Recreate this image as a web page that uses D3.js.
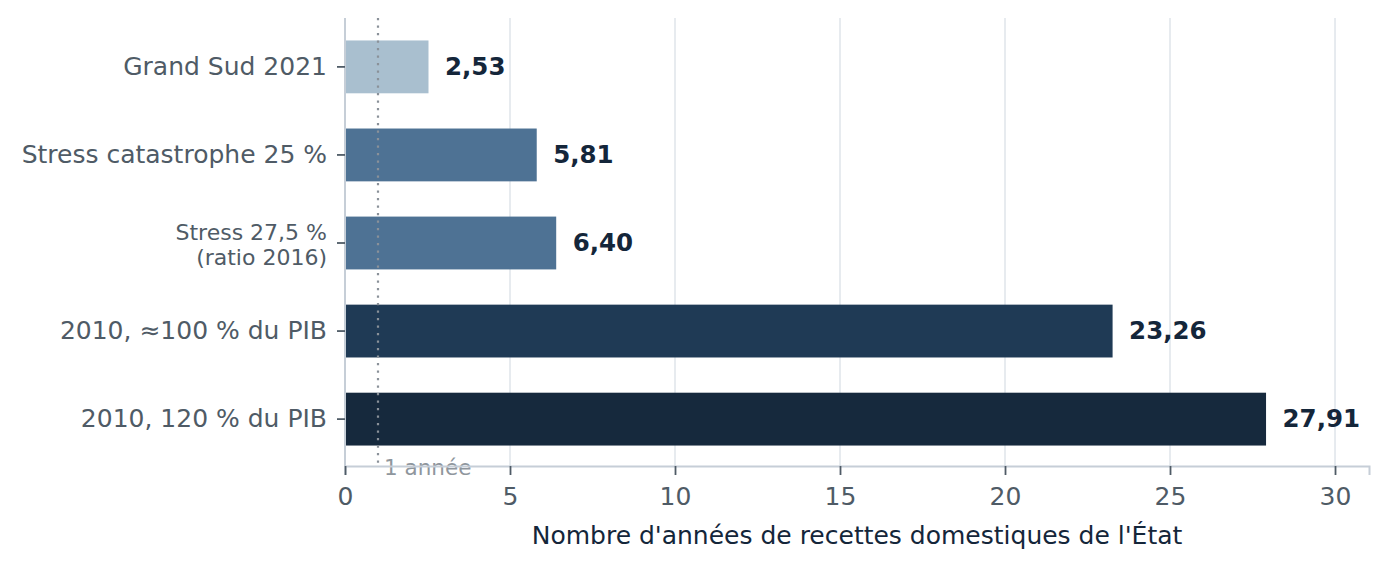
<!DOCTYPE html>
<html>
<head>
<meta charset="utf-8">
<script src="https://cdn.jsdelivr.net/npm/d3@7"></script>
<style>
  body { margin: 0; background: #ffffff; }
  svg { font-family: "DejaVu Sans", sans-serif; }
</style>
</head>
<body>
<div id="chart"></div>
<script>
// data
let categories = ["Grand Sud 2021", "Stress catastrophe 25 %", "Stress 27,5 %\n(ratio 2016)", "2010, ≈100 % du PIB", "2010, 120 % du PIB"];
let values = [2.53, 5.81, 6.40, 23.26, 27.91];
let barColors = ["#a9bfcf", "#4e7294", "#4e7294", "#1f3a55", "#16293d"];
let xTicks = [0, 5, 10, 15, 20, 25, 30];
let refValue = 1;
let refLabel = "1 année";
let xTitle = "Nombre d'années de recettes domestiques de l'État";

let fullWidth = 1388;
let fullHeight = 569;
let marginTop = 18;
let marginLeft = 345;
let marginRight = 19;
let marginBottom = 103;
let width = fullWidth - marginLeft - marginRight;
let height = fullHeight - marginTop - marginBottom;

let x = d3.scaleLinear().domain([0, 31.03]).range([0, width]);
// band range nudged down a pixel to sit like the original
let y = d3.scaleBand().domain(categories).range([1.5, height + 0.5])
    .paddingInner(0.4).paddingOuter(0.238);

let svg = d3.select("#chart").append("svg")
    .attr("width", fullWidth)
    .attr("height", fullHeight)
    .append("g")
    .attr("transform", "translate(" + marginLeft + "," + marginTop + ")");

// vertical grid lines
svg.append("g")
    .selectAll("line")
    .data(xTicks.filter(d => d > 0))
    .enter().append("line")
    .attr("x1", d => x(d)).attr("x2", d => x(d))
    .attr("y1", 0).attr("y2", height)
    .attr("stroke", "#e1e6eb")
    .attr("stroke-width", 1.6);

// bars
svg.append("g")
    .selectAll("rect")
    .data(values)
    .enter().append("rect")
    .attr("x", x(0))
    .attr("y", (d, i) => y(categories[i]))
    .attr("width", d => x(d) - x(0))
    .attr("height", y.bandwidth())
    .attr("fill", (d, i) => barColors[i]);

// value labels
svg.append("g")
    .selectAll("text")
    .data(values)
    .enter().append("text")
    .attr("x", d => x(d) + 16.5)
    .attr("y", (d, i) => y(categories[i]) + y.bandwidth() / 2)
    .attr("dy", "0.34em")
    .attr("fill", "#14263a")
    .style("font-size", "24.5px")
    .style("font-weight", "bold")
    .text(d => d3.format(".2f")(d).replace(".", ","));

// reference line at 1 year
svg.append("line")
    .attr("x1", x(refValue)).attr("x2", x(refValue))
    .attr("y1", 0).attr("y2", height)
    .attr("stroke", "#8a9199")
    .attr("stroke-width", 2.2)
    .attr("stroke-dasharray", "2.2,5.3");

svg.append("text")
    .attr("x", x(refValue) + 6)
    .attr("y", height + 9)
    .attr("fill", "#8f969d")
    .style("font-size", "21.5px")
    .text(refLabel);

// x axis
let xAxis = svg.append("g")
    .attr("transform", "translate(0," + height + ")")
    .call(d3.axisBottom(x).tickValues(xTicks).tickSize(9).tickPadding(12));
xAxis.select(".domain").attr("stroke", "#c6ced7").attr("stroke-width", 2);
xAxis.selectAll(".tick line").attr("stroke", "#4f5b66").attr("stroke-width", 1.8);
xAxis.selectAll(".tick text")
    .attr("fill", "#4f5b66")
    .style("font-size", "25px")
    .style("font-family", "DejaVu Sans");

// y axis
let yAxis = svg.append("g")
    .call(d3.axisLeft(y).tickSize(8).tickPadding(10));
yAxis.select(".domain").attr("stroke", "#c6ced7").attr("stroke-width", 2)
    .attr("d", "M0," + height + "V0");
yAxis.selectAll(".tick line").attr("stroke", "#4f5b66").attr("stroke-width", 1.8);
yAxis.selectAll(".tick text")
    .attr("fill", "#4f5b66")
    .style("font-size", "25px")
    .style("font-family", "DejaVu Sans")
    .each(function(d) {
        let lines = d.split("\n");
        if (lines.length > 1) {
            let t = d3.select(this).text(null).attr("dy", null).style("font-size", "22px");
            t.append("tspan").attr("x", -18).attr("dy", "-0.13em").text(lines[0]);
            t.append("tspan").attr("x", -18).attr("dy", "1.15em").text(lines[1]);
        }
    });

// x axis title
svg.append("text")
    .attr("x", width / 2)
    .attr("y", height + 78)
    .attr("text-anchor", "middle")
    .attr("fill", "#14263a")
    .style("font-size", "25px")
    .text(xTitle);
</script>
</body>
</html>
